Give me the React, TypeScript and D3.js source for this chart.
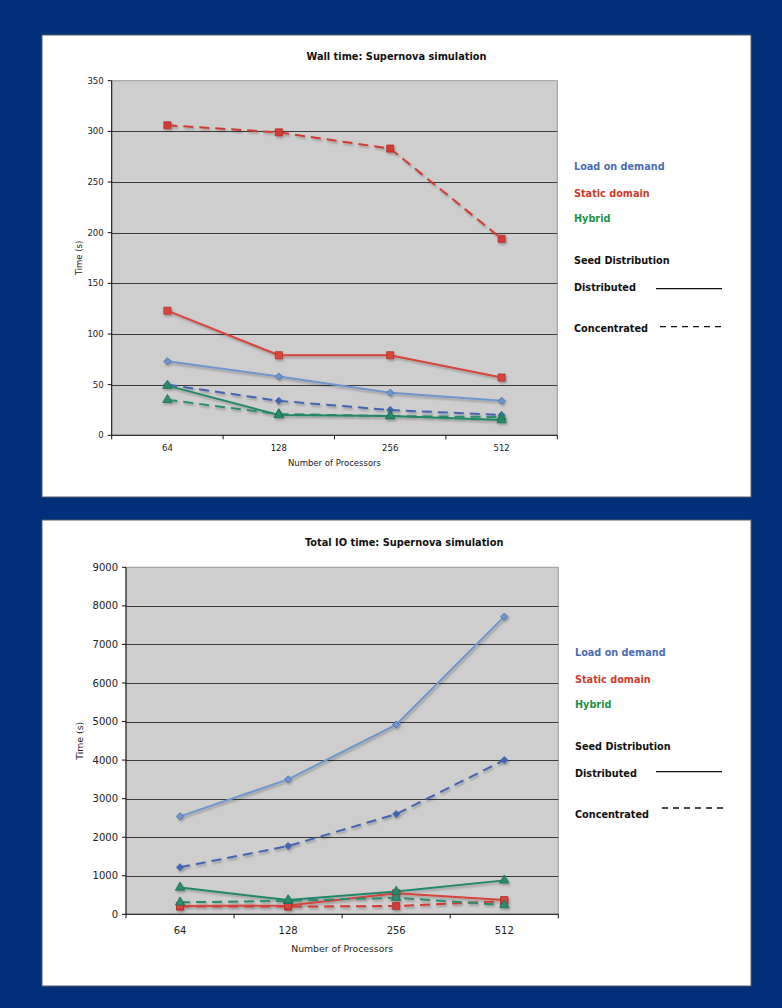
import React from "react";
import * as d3 from "d3";

// Processor counts on the x axis
const processors = ["64", "128", "256", "512"];

// Wall time (s)
const wallLoadDistributed = [73, 58, 42, 34];
const wallLoadConcentrated = [50, 34, 25, 20];
const wallStaticDistributed = [123, 79, 79, 57];
const wallStaticConcentrated = [306, 299, 283, 194];
const wallHybridDistributed = [49, 20, 19, 15];
const wallHybridConcentrated = [35, 21, 19, 18];
const wallTicks = [0, 50, 100, 150, 200, 250, 300, 350];

// Total IO time (s)
const ioLoadDistributed = [2540, 3500, 4920, 7720];
const ioLoadConcentrated = [1220, 1770, 2600, 4000];
const ioStaticDistributed = [215, 230, 545, 370];
const ioStaticConcentrated = [200, 200, 215, 340];
const ioHybridDistributed = [695, 370, 590, 880];
const ioHybridConcentrated = [310, 350, 430, 240];
const ioTicks = [0, 1000, 2000, 3000, 4000, 5000, 6000, 7000, 8000, 9000];

const methodLabels = ["Load on demand", "Static domain", "Hybrid"];
const seedLabels = ["Seed Distribution", "Distributed", "Concentrated"];

const FONT = "'DejaVu Sans', Verdana, sans-serif";
const BLUE_BG = "#012f79";

type Method = "load" | "static" | "hybrid";

interface Series {
  method: Method;
  dashed: boolean;
  values: number[];
}

const methodStyle: Record<Method, { line: string; lineDash: string; fill: string; fillDash: string; stroke: string; symbol: d3.SymbolType; size: number; rotate: number }> = {
  // diamonds are squares turned by 45 degrees
  load: { line: "#6f96cc", lineDash: "#4563b0", fill: "#6f94cc", fillDash: "#4363b2", stroke: "#4a6db6", symbol: d3.symbolSquare, size: 26, rotate: 45 },
  static: { line: "#d4443b", lineDash: "#d03a33", fill: "#d8463e", fillDash: "#d23b34", stroke: "#b0302b", symbol: d3.symbolSquare, size: 50, rotate: 0 },
  hybrid: { line: "#24876a", lineDash: "#2d8c6e", fill: "#2a8a6b", fillDash: "#2f8e70", stroke: "#1c6e55", symbol: d3.symbolTriangle, size: 38, rotate: 0 },
};

const legendColor: Record<Method, string> = {
  load: "#4a6cb4",
  static: "#d3392c",
  hybrid: "#1b9348",
};

interface ChartProps {
  id: string;
  title: string;
  panel: { x: number; y: number; w: number; h: number };
  plot: { left: number; top: number; right: number; bottom: number };
  ticks: number[];
  series: Series[];
  titleY: number;
  tickFont: number;
  axisFont: number;
  tickLabelDy: number;
  axisTitleDy: number;
  yTitleX: number;
  legend: { x: number; ys: number[]; solid: [number, number, number]; dash: [number, number, number] };
}

function Chart(p: ChartProps) {
  const { plot } = p;
  const x = d3.scaleBand<string>().domain(processors).range([plot.left, plot.right]).padding(0);
  const y = d3.scaleLinear().domain([p.ticks[0], p.ticks[p.ticks.length - 1]]).range([plot.bottom, plot.top]);
  const cx = (c: string) => (x(c) as number) + x.bandwidth() / 2;
  const line = d3
    .line<number>()
    .x((_, i) => cx(processors[i]))
    .y((v) => y(v));
  const boundaries = [...processors.map((c) => x(c) as number), plot.right];
  const midX = (plot.left + plot.right) / 2;

  return (
    <g>
      <rect x={p.panel.x} y={p.panel.y} width={p.panel.w} height={p.panel.h} fill="#ffffff" stroke="#5a5f6a" strokeWidth={1} />
      <text x={(plot.left + plot.right) / 2 + 62} y={p.titleY} textAnchor="middle" fontFamily={FONT} fontWeight="bold" fontSize={9.8} fill="#111">
        {p.title}
      </text>
      {/* plot area */}
      <rect x={plot.left} y={plot.top} width={plot.right - plot.left} height={plot.bottom - plot.top} fill="#cdcecd" stroke="#9a9a9a" strokeWidth={1} />
      {p.ticks.slice(1, -1).map((t) => (
        <line key={t} x1={plot.left} x2={plot.right} y1={Math.round(y(t)) + 0.5} y2={Math.round(y(t)) + 0.5} stroke="#3a3a3a" strokeWidth={1} />
      ))}
      {/* axes */}
      <line x1={plot.left} x2={plot.left} y1={plot.top} y2={plot.bottom} stroke="#111" strokeWidth={1} />
      <line x1={plot.left} x2={plot.right} y1={plot.bottom} y2={plot.bottom} stroke="#111" strokeWidth={1} />
      {p.ticks.map((t) => (
        <g key={t}>
          <line x1={plot.left - 4} x2={plot.left} y1={y(t)} y2={y(t)} stroke="#111" />
          <text x={plot.left - 8} y={y(t) + p.tickFont * 0.36} textAnchor="end" fontFamily={FONT} fontSize={p.tickFont} fill="#222">
            {t}
          </text>
        </g>
      ))}
      {boundaries.map((b, i) => (
        <line key={i} x1={b} x2={b} y1={plot.bottom} y2={plot.bottom + 4} stroke="#111" />
      ))}
      {processors.map((c) => (
        <text key={c} x={cx(c)} y={plot.bottom + p.tickLabelDy} textAnchor="middle" fontFamily={FONT} fontSize={p.tickFont} fill="#222">
          {c}
        </text>
      ))}
      <text x={midX} y={plot.bottom + p.axisTitleDy} textAnchor="middle" fontFamily={FONT} fontSize={p.axisFont} fill="#222">
        Number of Processors
      </text>
      <text
        transform={`translate(${p.yTitleX},${(plot.top + plot.bottom) / 2}) rotate(-90)`}
        textAnchor="middle"
        fontFamily={FONT}
        fontSize={p.axisFont}
        fill="#222"
      >
        Time (s)
      </text>
      {/* series */}
      <g filter={`url(#shadow-${p.id})`}>
        {p.series.map((s, si) => {
          const st = methodStyle[s.method];
          return (
            <path
              key={si}
              d={line(s.values) as string}
              fill="none"
              stroke={s.dashed ? st.lineDash : st.line}
              strokeWidth={2}
              strokeDasharray={s.dashed ? "10,6" : undefined}
            />
          );
        })}
        {p.series.map((s, si) => {
          const st = methodStyle[s.method];
          const sym = d3.symbol().type(st.symbol).size(st.size)();
          return (
            <g key={si}>
              {s.values.map((v, i) => (
                <path
                  key={i}
                  d={sym as string}
                  transform={`translate(${cx(processors[i])},${y(v)}) rotate(${st.rotate})`}
                  fill={s.dashed ? st.fillDash : st.fill}
                  stroke={st.stroke}
                  strokeWidth={0.8}
                />
              ))}
            </g>
          );
        })}
      </g>
      {/* legend */}
      {methodLabels.map((l, i) => (
        <text key={l} x={p.legend.x} y={p.legend.ys[i]} fontFamily={FONT} fontWeight="bold" fontSize={9.7} fill={legendColor[(["load", "static", "hybrid"] as Method[])[i]]}>
          {l}
        </text>
      ))}
      {seedLabels.map((l, i) => (
        <text key={l} x={p.legend.x} y={p.legend.ys[3 + i]} fontFamily={FONT} fontWeight="bold" fontSize={9.7} fill="#111">
          {l}
        </text>
      ))}
      <line x1={p.legend.solid[0]} x2={p.legend.solid[1]} y1={p.legend.solid[2]} y2={p.legend.solid[2]} stroke="#111" strokeWidth={1.3} />
      <line x1={p.legend.dash[0]} x2={p.legend.dash[1]} y1={p.legend.dash[2]} y2={p.legend.dash[2]} stroke="#111" strokeWidth={1.3} strokeDasharray="6,5" />
    </g>
  );
}

export default function App() {
  const wallSeries: Series[] = [
    { method: "load", dashed: false, values: wallLoadDistributed },
    { method: "load", dashed: true, values: wallLoadConcentrated },
    { method: "static", dashed: false, values: wallStaticDistributed },
    { method: "static", dashed: true, values: wallStaticConcentrated },
    { method: "hybrid", dashed: true, values: wallHybridConcentrated },
    { method: "hybrid", dashed: false, values: wallHybridDistributed },
  ];
  const ioSeries: Series[] = [
    { method: "load", dashed: false, values: ioLoadDistributed },
    { method: "load", dashed: true, values: ioLoadConcentrated },
    { method: "static", dashed: true, values: ioStaticConcentrated },
    { method: "static", dashed: false, values: ioStaticDistributed },
    { method: "hybrid", dashed: true, values: ioHybridConcentrated },
    { method: "hybrid", dashed: false, values: ioHybridDistributed },
  ];
  return (
    <div style={{ position: "absolute", left: 0, top: 0 }}>
      <svg width={782} height={1008} style={{ display: "block" }}>
        <defs>
          {["wall", "io"].map((id) => (
            <filter key={id} id={`shadow-${id}`} x="-10%" y="-10%" width="120%" height="120%">
              <feDropShadow dx={1.2} dy={1.8} stdDeviation={0.9} floodColor="#000" floodOpacity={0.28} />
            </filter>
          ))}
        </defs>
        <rect x={0} y={0} width={782} height={1008} fill={BLUE_BG} />
        <Chart
          id="wall"
          title="Wall time: Supernova simulation"
          panel={{ x: 42, y: 35, w: 709, h: 462 }}
          plot={{ left: 111.7, top: 80.7, right: 557.3, bottom: 435.3 }}
          ticks={wallTicks}
          series={wallSeries}
          titleY={60}
          tickFont={8.5}
          axisFont={8.5}
          tickLabelDy={15.2}
          axisTitleDy={31}
          yTitleX={82}
          legend={{ x: 574, ys: [169.5, 196.5, 222.3, 264, 291, 331.5], solid: [656, 722, 288.7], dash: [660, 726, 326.7] }}
        />
        <Chart
          id="io"
          title="Total IO time: Supernova simulation"
          panel={{ x: 42, y: 520, w: 709, h: 466 }}
          plot={{ left: 126, top: 567.3, right: 558.3, bottom: 914.3 }}
          ticks={ioTicks}
          series={ioSeries}
          titleY={545.5}
          tickFont={10}
          axisFont={9.3}
          tickLabelDy={19.5}
          axisTitleDy={38}
          yTitleX={83}
          legend={{ x: 575, ys: [655.7, 682.7, 708.3, 750, 777, 818], solid: [656, 722, 771.7], dash: [662, 726, 808] }}
        />
      </svg>
    </div>
  );
}
